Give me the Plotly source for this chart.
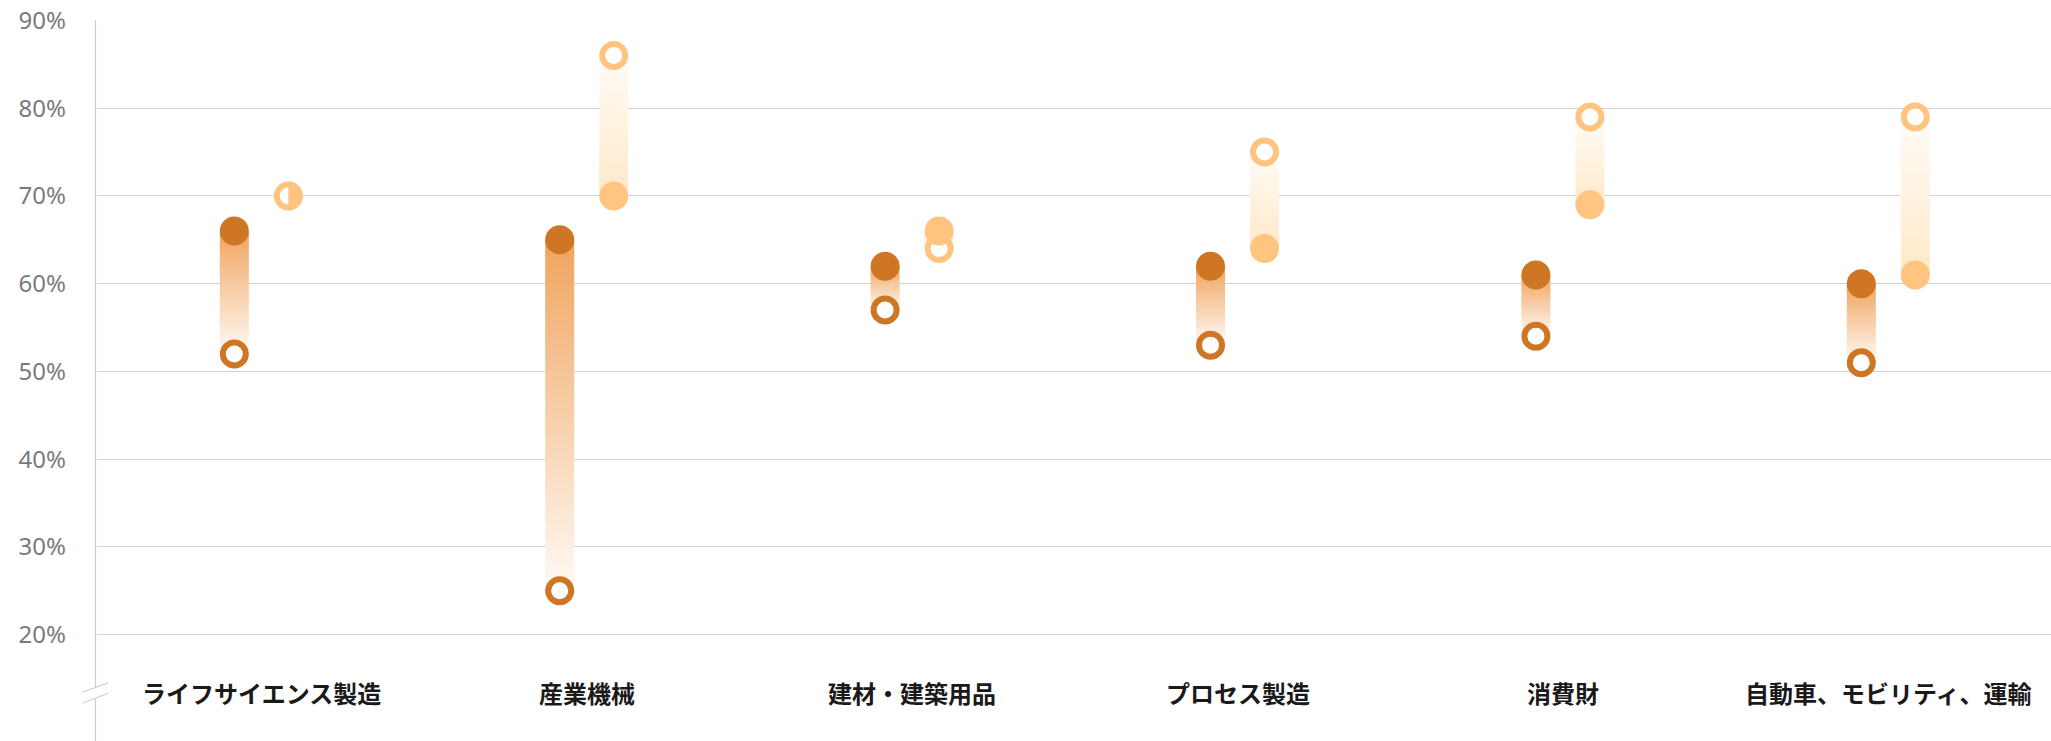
import numpy as np
import plotly.graph_objects as go

# ---------------- data ----------------
categories = ["ライフサイエンス製造", "産業機械", "建材・建築用品", "プロセス製造", "消費財", "自動車、モビリティ、運輸"]
dark_filled = [66, 65, 62, 62, 61, 60]
dark_hollow = [52, 25, 57, 53, 54, 51]
light_filled = [70, 70, 66, 64, 69, 61]
light_hollow = [70, 86, 64, 75, 79, 79]
y_ticks = [20, 30, 40, 50, 60, 70, 80, 90]
y_tick_labels = [f"{v}%" for v in y_ticks]

# ---------------- style ----------------
W, H = 2051, 741
ML, MR, MT, MB = 97, 0, 20, 0
DARK = "#CF7624"
LIGHT = "#FFC480"
DARK_BAR = [[0, "#FFFAF6"], [1, "#F0A45E"]]
LIGHT_BAR = [[0, "#FFFCF8"], [1, "#FFE8C8"]]
OFF = 0.083       # horizontal offset of the two series (category units)
HALF_W = 0.0446   # half width of the range bar (category units)
MS = 29           # marker outer diameter (px)
RING = 6          # ring width (px)
GRID = "#d2d2d2"

fig = go.Figure()
idx = list(range(len(categories)))


def add_bar(x, filled, hollow, scale):
    """scale: [[0, colour at hollow end], [1, colour at filled end]]"""
    if filled == hollow:
        return
    lo, hi = min(filled, hollow), max(filled, hollow)
    # fillgradient colorscale: 0 = bottom, 1 = top
    cs = scale if filled > hollow else [[0, scale[1][1]], [1, scale[0][1]]]
    fig.add_trace(go.Scatter(
        x=[x - HALF_W, x + HALF_W, x + HALF_W, x - HALF_W, x - HALF_W],
        y=[lo, lo, hi, hi, lo],
        mode="lines", line=dict(width=0), fill="toself",
        fillgradient=dict(type="vertical", colorscale=cs),
        hoverinfo="skip", showlegend=False,
    ))


for i in idx:
    add_bar(i - OFF, dark_filled[i], dark_hollow[i], DARK_BAR)
    add_bar(i + OFF, light_filled[i], light_hollow[i], [[0, "#FFFCF8"], [1, "#FFE8C8"]])

# hollow markers
fig.add_trace(go.Scatter(
    x=[i - OFF for i in idx], y=dark_hollow, mode="markers",
    marker=dict(size=MS - RING, color="white", line=dict(color=DARK, width=RING)),
    cliponaxis=False, hoverinfo="skip", showlegend=False))
fig.add_trace(go.Scatter(
    x=[i + OFF for i in idx], y=light_hollow, mode="markers",
    marker=dict(size=MS - RING, color="white", line=dict(color=LIGHT, width=RING)),
    cliponaxis=False, hoverinfo="skip", showlegend=False))

# filled markers
fig.add_trace(go.Scatter(
    x=[i - OFF for i in idx], y=dark_filled, mode="markers",
    marker=dict(size=MS, color=DARK, line=dict(width=0)),
    cliponaxis=False, hoverinfo="skip", showlegend=False))
fig.add_trace(go.Scatter(
    x=[i + OFF for i in idx],
    y=[f if f != h else None for f, h in zip(light_filled, light_hollow)],
    mode="markers", marker=dict(size=MS, color=LIGHT, line=dict(width=0)),
    cliponaxis=False, hoverinfo="skip", showlegend=False))

shapes = []
# half-filled marker when both light values coincide
r = MS / 2
angles = np.linspace(-np.pi / 2, np.pi / 2, 31)
half_path = "M " + " L ".join(f"{r*np.cos(a):.2f},{r*np.sin(a):.2f}" for a in angles) + " Z"
for i in idx:
    if light_filled[i] == light_hollow[i]:
        shapes.append(dict(type="path", xref="x", yref="y", xsizemode="pixel", ysizemode="pixel",
                           xanchor=i + OFF, yanchor=light_filled[i], path=half_path,
                           fillcolor=LIGHT, line=dict(width=0), layer="above"))

# axis line with break marks (pixel -> paper helpers)
PW, PH = W - ML - MR, H - MT - MB
def px(xp):
    return (xp - ML) / PW
def py(yp):
    return (H - MB - yp) / PH

AX = 95.5
line_style = dict(color="#cccccc", width=1.2)
shapes += [
    dict(type="line", xref="paper", yref="paper", x0=px(AX), x1=px(AX), y0=py(MT), y1=py(687), line=line_style, layer="above"),
    dict(type="line", xref="paper", yref="paper", x0=px(AX), x1=px(AX), y0=py(698.5), y1=py(H), line=line_style, layer="above"),
    dict(type="line", xref="paper", yref="paper", x0=px(82.3), x1=px(108.3), y0=py(692.3), y1=py(682.7), line=line_style, layer="above"),
    dict(type="line", xref="paper", yref="paper", x0=px(82.3), x1=px(108.3), y0=py(703.3), y1=py(693.3), line=line_style, layer="above"),
]

annotations = [
    dict(x=i, y=py(692), xref="x", yref="paper", text=f"<b>{c}</b>", showarrow=False,
         xanchor="center", yanchor="middle",
         font=dict(family="Noto Sans CJK JP", size=24, color="#1a1a1a"))
    for i, c in enumerate(categories)
]

fig.update_layout(
    width=W, height=H,
    margin=dict(l=ML, r=MR, t=MT, b=MB, pad=0),
    paper_bgcolor="white", plot_bgcolor="white",
    showlegend=False,
    shapes=shapes, annotations=annotations,
    xaxis=dict(range=[-0.505, 5.5], showgrid=False, zeroline=False, showticklabels=False,
               showline=False, fixedrange=True),
    yaxis=dict(range=[7.89, 90.05], tickvals=y_ticks, ticktext=y_tick_labels,
               showgrid=True, gridcolor=GRID, gridwidth=1, zeroline=False, showline=False,
               ticks="", ticklabelstandoff=30,
               tickfont=dict(family="Noto Sans", size=24, color="#7a7a7a"), fixedrange=True),
)

fig.write_html("out.html", config={"displayModeBar": False},
               post_script="document.body.style.margin='0';document.body.style.overflow='hidden';")
